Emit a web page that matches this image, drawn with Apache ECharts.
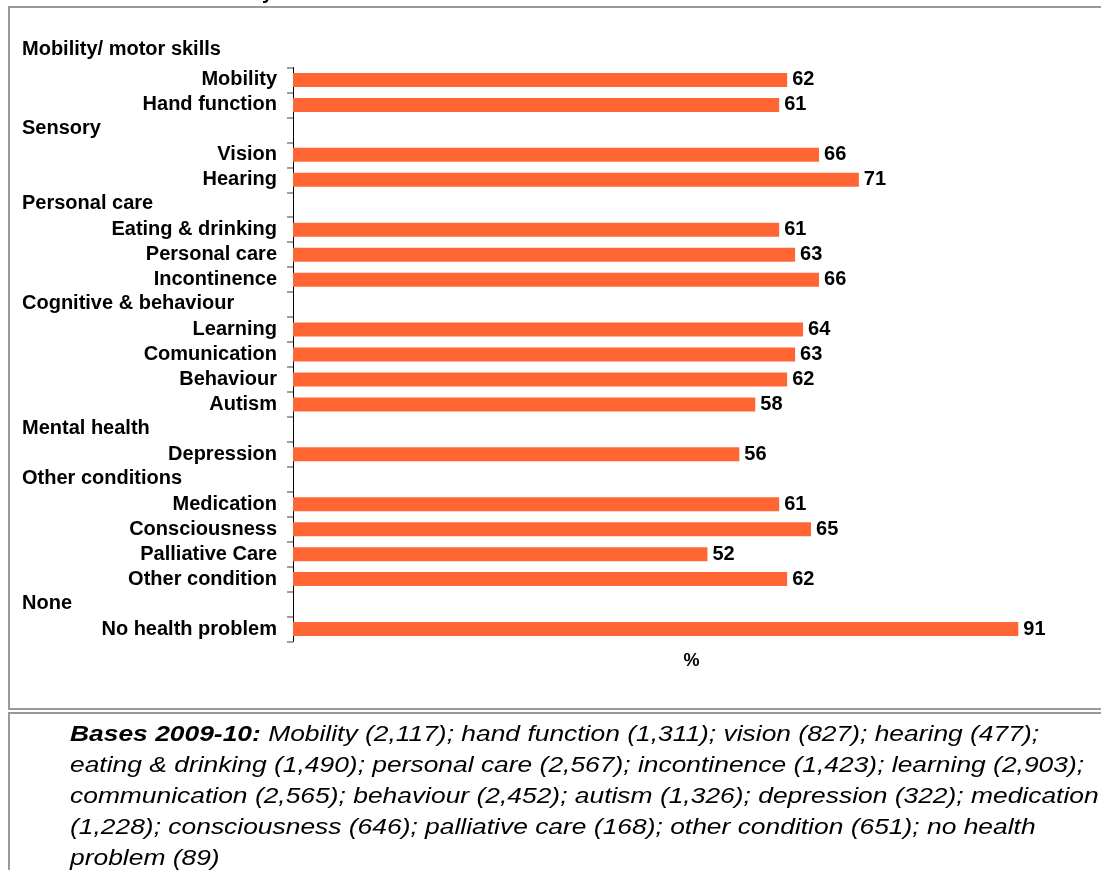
<!DOCTYPE html>
<html>
<head>
<meta charset="utf-8">
<title>Health conditions</title>
<script src="https://cdn.jsdelivr.net/npm/echarts@6/dist/echarts.min.js"></script>
<style>
  html, body { margin: 0; padding: 0; background: #fff; }
  #chart { width: 1101px; height: 870px; }
</style>
</head>
<body>
<div id="chart"></div>
<script>
// Rows of the chart, top to bottom. Group headings have no value.
const categories = [
  'Mobility', 'Hand function',
  'Sensory', 'Vision', 'Hearing',
  'Personal care', 'Eating & drinking', 'Personal care', 'Incontinence',
  'Cognitive & behaviour', 'Learning', 'Comunication', 'Behaviour', 'Autism',
  'Mental health', 'Depression',
  'Other conditions', 'Medication', 'Consciousness', 'Palliative Care', 'Other condition',
  'None', 'No health problem'
];
const isHeading = [
  false, false,
  true, false, false,
  true, false, false, false,
  true, false, false, false, false,
  true, false,
  true, false, false, false, false,
  true, false
];
const values = [
  62, 61,
  '-', 66, 71,
  '-', 61, 63, 66,
  '-', 64, 63, 62, 58,
  '-', 56,
  '-', 61, 65, 52, 62,
  '-', 91
];
const firstHeading = 'Mobility/ motor skills';
const axisName = '%';

const FONT = "'Liberation Sans', Arial, sans-serif";
const LABEL_SIZE = 20;

const chart = echarts.init(document.getElementById('chart'), null, { renderer: 'canvas' });

chart.setOption({
  backgroundColor: '#ffffff',
  animation: false,
  grid: { left: 293, right: 11, top: 67.5, bottom: 228.5, containLabel: false },
  xAxis: {
    type: 'value',
    min: 0,
    max: 100,
    axisLine: { show: false },
    axisTick: { show: false },
    axisLabel: { show: false },
    splitLine: { show: false },
    name: axisName,
    nameLocation: 'middle',
    nameGap: 11,
    nameTextStyle: { fontFamily: FONT, fontWeight: 'bold', fontSize: 18, color: '#000' }
  },
  yAxis: {
    type: 'category',
    inverse: true,
    data: categories,
    axisLine: { show: true, lineStyle: { color: '#000', width: 1 } },
    axisTick: { show: true, length: 6, lineStyle: { color: '#808080', width: 1.5 } },
    axisLabel: {
      interval: 0,
      margin: 16,
      formatter: function (v, i) {
        return isHeading[i] ? '{h|' + v + '}' : '{c|' + v + '}';
      },
      rich: {
        c: { fontFamily: FONT, fontWeight: 'bold', fontSize: LABEL_SIZE, color: '#000' },
        h: { fontFamily: FONT, fontWeight: 'bold', fontSize: LABEL_SIZE, color: '#000',
             width: 255, align: 'left', padding: [0, 0, 2, 0] }
      }
    },
    splitLine: { show: false }
  },
  series: [{
    type: 'bar',
    data: values,
    barWidth: 14,
    itemStyle: { color: '#FF6633' },
    label: {
      show: true,
      position: 'right',
      distance: 5,
      fontFamily: FONT,
      fontWeight: 'bold',
      fontSize: LABEL_SIZE,
      color: '#000'
    }
  }],
  graphic: [
    {
      type: 'rect', silent: true, z: -1,
      shape: { x: 9, y: 7, width: 1200, height: 702 },
      style: { fill: 'none', stroke: '#9a9a9a', lineWidth: 2 }
    },
    {
      type: 'rect', silent: true, z: -1,
      shape: { x: 9, y: 713, width: 1200, height: 300 },
      style: { fill: 'none', stroke: '#9a9a9a', lineWidth: 2 }
    },
    {
      type: 'text', silent: true,
      x: 262, y: -17,
      style: { text: 'y', font: "bold 20px 'Liberation Sans', Arial, sans-serif", fill: '#000' }
    },
    {
      type: 'text', silent: true,
      x: 22, y: 49,
      style: {
        text: firstHeading,
        font: "bold 20px 'Liberation Sans', Arial, sans-serif",
        fill: '#000',
        verticalAlign: 'middle'
      }
    },
    {
      type: 'text', silent: true,
      x: 70, y: 719,
      scaleX: 1.2,
      style: {
        text: '{b|Bases 2009-10:} Mobility (2,117); hand function (1,311); vision (827); hearing (477);\n' +
              'eating & drinking (1,490); personal care (2,567); incontinence (1,423); learning (2,903);\n' +
              'communication (2,565); behaviour (2,452); autism (1,326); depression (322); medication\n' +
              '(1,228); consciousness (646); palliative care (168); other condition (651); no health\n' +
              'problem (89)',
        font: "italic 22px 'Liberation Sans', Arial, sans-serif",
        fill: '#000',
        lineHeight: 31,
        verticalAlign: 'top',
        rich: {
          b: { font: "italic bold 22px 'Liberation Sans', Arial, sans-serif", fill: '#000', lineHeight: 31 }
        }
      }
    }
  ]
});
</script>
</body>
</html>
